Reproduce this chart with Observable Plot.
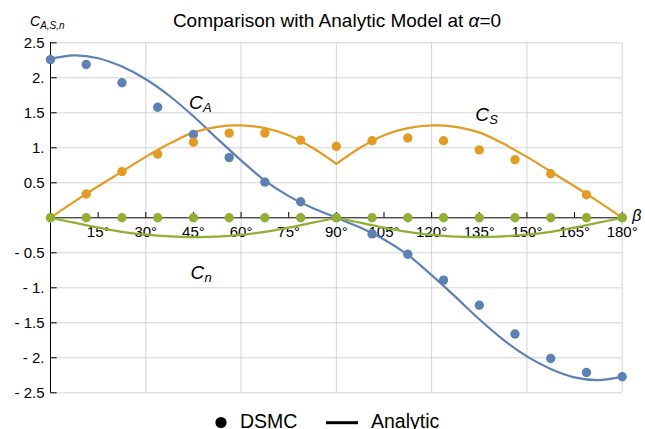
<!DOCTYPE html>
<html><head><meta charset="utf-8">
<script src="https://cdn.jsdelivr.net/npm/d3@7"></script>
<script src="https://cdn.jsdelivr.net/npm/@observablehq/plot@0.6"></script>
<style>
body{margin:0;background:#fff;}
#chart{position:relative;width:645px;height:429px;overflow:hidden;}
#chart svg{overflow:visible;}
</style></head><body><div id="chart"></div>
<script>
// ---- data ----
const betaCurve = [0,7.5,15,22.5,30,37.5,45,52.5,60,67.5,75,82.5,90,97.5,105,112.5,120,127.5,135,142.5,150,157.5,165,172.5,180];
const cAAnalytic = [2.27,2.32,2.28,2.16,1.98,1.74,1.45,1.13,0.82,0.53,0.31,0.14,0,-0.14,-0.31,-0.53,-0.82,-1.13,-1.45,-1.74,-1.98,-2.16,-2.28,-2.32,-2.27];
const cSAnalytic = [0,0.23,0.45,0.66,0.87,1.06,1.22,1.30,1.32,1.28,1.18,1.00,0.77,1.00,1.18,1.28,1.32,1.30,1.22,1.06,0.87,0.66,0.45,0.23,0];
const cNAnalytic = [0,-0.07,-0.14,-0.20,-0.24,-0.265,-0.275,-0.27,-0.245,-0.20,-0.14,-0.07,0,-0.07,-0.14,-0.20,-0.245,-0.27,-0.275,-0.265,-0.24,-0.20,-0.14,-0.07,0];

const betaDSMC = [0,11.25,22.5,33.75,45,56.25,67.5,78.75,90,101.25,112.5,123.75,135,146.25,157.5,168.75,180];
const cADSMC = [2.26,2.19,1.93,1.58,1.19,0.86,0.51,0.23,0,-0.23,-0.52,-0.89,-1.25,-1.66,-2.01,-2.21,-2.27];
const cSDSMC = [0,0.34,0.66,0.91,1.08,1.21,1.21,1.11,1.02,1.10,1.14,1.10,0.97,0.83,0.63,0.33,0];
const cNDSMC = [0,0,0,0,0,0,0,0,0,0,0,0,0,0,0,0,0];

const xTicks = [15,30,45,60,75,90,105,120,135,150,165,180];
const xTickLabels = ["15°","30°","45°","60°","75°","90°","105°","120°","135°","150°","165°","180°"];
const xGrid = [30,60,90,120,150,180];
const yTicks = [2.5,2,1.5,1,0.5,-0.5,-1,-1.5,-2,-2.5];
const yTickLabels = ["2.5","2.","1.5","1.","0.5","- 0.5","- 1.","- 1.5","- 2.","- 2.5"];

const seriesNames = ["A","S","n"];
const seriesColors = ["#5E81B5","#E19C24","#8FB032"];
const labelBeta = [43.6,133.7,44.1];
const labelValue = [1.557,1.38,-0.871];

const titleText = "Comparison with Analytic Model at ";
const legendNames = ["DSMC","Analytic"];

// ---- build tables ----
function curveTable(vals, split) {
  const rows = [];
  betaCurve.forEach((b,i) => {
    if (!split) { rows.push({beta:b, v:vals[i], seg:0}); return; }
    if (b <= 90) rows.push({beta:b, v:vals[i], seg:0});
    if (b >= 90) rows.push({beta:b, v:vals[i], seg:1});
  });
  return rows;
}
const dsmcTable = vals => betaDSMC.map((b,i) => ({beta:b, v:vals[i]}));
const curves = [curveTable(cAAnalytic,false), curveTable(cSAnalytic,true), curveTable(cNAnalytic,true)];
const dots = [dsmcTable(cADSMC), dsmcTable(cSDSMC), dsmcTable(cNDSMC)];
const labels = seriesNames.map((s,i)=>({beta:labelBeta[i], v:labelValue[i], sub:s}));

const font = "'Liberation Sans', Arial, Helvetica, sans-serif";

const plot = Plot.plot({
  width: 645, height: 429,
  marginTop: 42.3, marginBottom: 36.7, marginLeft: 50, marginRight: 23.3,
  style: {fontFamily: font, fontSize: "15px", background: "#fff", overflow: "visible"},
  x: {domain: [0,180], axis: null},
  y: {domain: [-2.5,2.5], axis: null},
  marks: [
    Plot.ruleX(xGrid, {stroke: "#d4d4d4", strokeWidth: 1}),
    Plot.ruleY(yTicks, {stroke: "#d4d4d4", strokeWidth: 1}),
    Plot.ruleX([0], {y1: -2.5, y2: 2.5, stroke: "#000", strokeWidth: 1}),
    Plot.ruleY([0], {x1: 0, x2: 180, stroke: "#000", strokeWidth: 1}),
    Plot.ruleX(xTicks, {x: d=>d, y1: 0, y2: 0.075, stroke: "#000", strokeWidth: 1}),
    Plot.ruleY(yTicks, {y: d=>d, x1: 0, x2: 2.1, stroke: "#000", strokeWidth: 1}),
    Plot.text(xTicks, {x: d=>d, y: 0, text: (d,i)=>xTickLabels[i], dy: 14, fontSize: 15, fill: "#000"}),
    Plot.text(yTicks, {x: 0, y: d=>d, text: (d,i)=>yTickLabels[i], dx: -6, textAnchor: "end", fontSize: 15, fill: "#000"}),
    ...curves.map((c,i)=>Plot.line(c, {x:"beta", y:"v", z:"seg", stroke: seriesColors[i], strokeWidth: 2.2, curve: "catmull-rom"})),
    ...dots.map((d,i)=>Plot.dot(d, {x:"beta", y:"v", r: 4.7, fill: seriesColors[i], stroke: "none"})),
    Plot.text(labels, {x:"beta", y:"v", text: ()=>"C", textAnchor:"start", lineAnchor:"bottom", fontSize: 19, fontStyle:"italic", fill:"#000"}),
    Plot.text(labels, {x:"beta", y:"v", text: "sub", textAnchor:"start", lineAnchor:"bottom", dx: 14, dy: 3, fontSize: 13, fontStyle:"italic", fill:"#000"}),
    Plot.text([180], {x: d=>d, y: 0, text: ()=>"β", dx: 10, dy: -2, textAnchor: "start", fontSize: 16, fontStyle: "italic", fill: "#000"})
  ]
});

const svg = d3.select(plot);
// title
const t = svg.append("text").attr("x", 337).attr("y", 27).attr("text-anchor","middle")
  .style("font-family", font).style("font-size","19px").attr("fill","#000");
t.append("tspan").text(titleText);
t.append("tspan").style("font-style","italic").text("α");
t.append("tspan").text("=0");
// y label
const yl = svg.append("text").attr("x", 30).attr("y", 26).attr("text-anchor","start").style("font-family", font).attr("fill","#000");
yl.append("tspan").style("font-style","italic").style("font-size","14px").text("C");
yl.append("tspan").style("font-style","italic").style("font-size","10px").attr("dy",3).text("A,S,n");
// legend
svg.append("circle").attr("cx",221).attr("cy",422.5).attr("r",5.6).attr("fill","#000");
svg.append("text").attr("x",240).attr("y",428).attr("text-anchor","start").style("font-family",font).style("font-size","19.5px").attr("fill","#000").text(legendNames[0]);
svg.append("line").attr("x1",326).attr("x2",358).attr("y1",422.7).attr("y2",422.7).attr("stroke","#000").attr("stroke-width",3);
svg.append("text").attr("x",371).attr("y",428).attr("text-anchor","start").style("font-family",font).style("font-size","19.5px").attr("fill","#000").text(legendNames[1]);

document.getElementById("chart").appendChild(plot);
</script></body></html>
